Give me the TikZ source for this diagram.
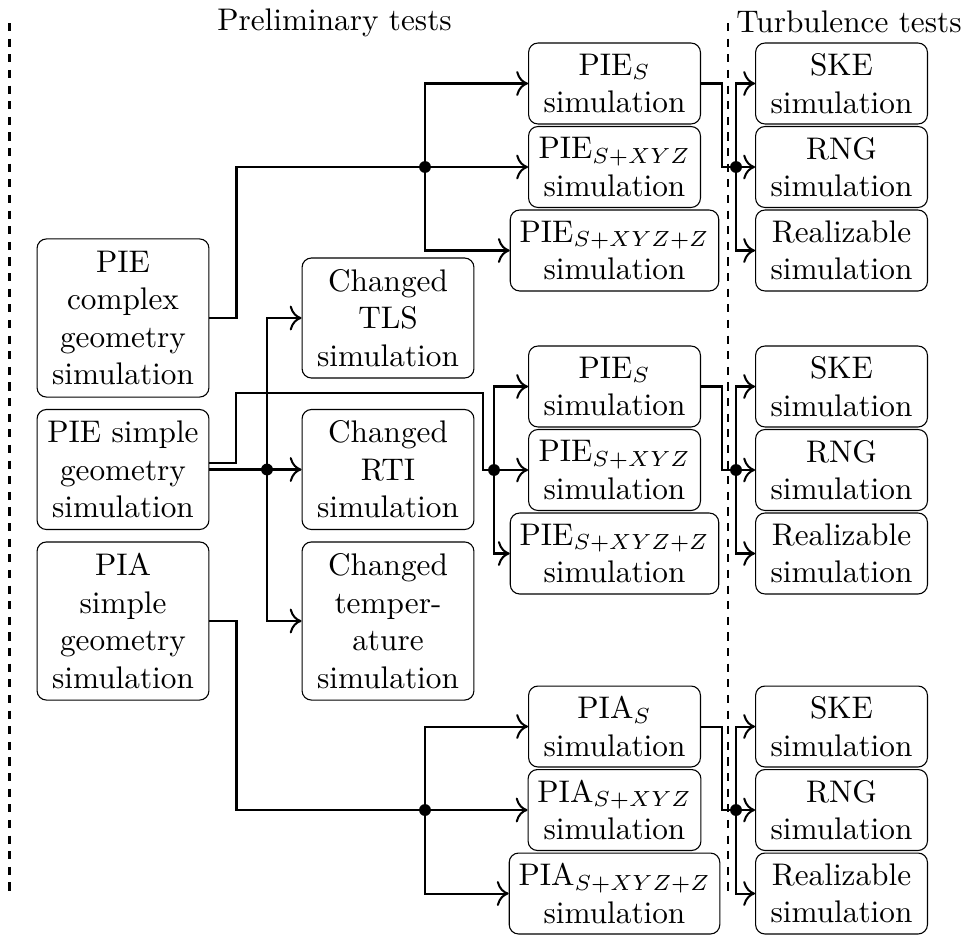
\documentclass[tikz,border=0pt]{standalone}
\usetikzlibrary{arrows.meta}
\begin{document}
\begin{tikzpicture}[x=0.32pt, y=-0.32pt,
  box/.style={draw, line width=0.35pt, rounded corners=3pt, align=center,
              minimum width=55pt, inner sep=3pt},
  twoline/.style={minimum height=25.9pt},
  threeline/.style={minimum height=38.4pt},
  fourline/.style={minimum height=50.6pt},
  conn/.style={line width=0.65pt},
  arr/.style={conn, -{To[scale=1.25]}},
  sep/.style={line width=0.75pt, dash pattern=on 2.6pt off 2.4pt},
  dot/.style={fill=black}
]
\useasboundingbox (0,0) rectangle (964,934);

% section headings and separators
\node[anchor=base, inner sep=0pt] (prelim) at (334.5,31) {Preliminary tests};
\node[anchor=base, inner sep=0pt] (turb) at (849,32) {Turbulence tests};
\coordinate (l1) at (9.5,23);  \coordinate (l2) at (9.5,892);
\coordinate (r1) at (728,23);  \coordinate (r2) at (728,894);
\draw[sep] (l1) -- (l2);
\draw[sep] (r1) -- (r2);

% base simulations
\node[box,fourline]  (pc) at (123,318)   {PIE\\complex\\geometry\\simulation};
\node[box,threeline] (ps) at (123,469.5) {PIE simple\\geometry\\simulation};
\node[box,fourline]  (pa) at (123,621)   {PIA\\simple\\geometry\\simulation};

% parameter changes
\node[box,threeline] (tls) at (388,318)   {Changed\\TLS\\simulation};
\node[box,threeline] (rti) at (388,469.5) {Changed\\RTI\\simulation};
\node[box,fourline]  (tmp) at (388,621)   {Changed\\temper-\\ature\\simulation};

% PIE complex variants
\node[box,twoline] (e1s) at (614.5,83.5)  {PIE$_{S}$\\simulation};
\node[box,twoline] (e1x) at (614.5,167)   {PIE$_{S+XYZ}$\\simulation};
\node[box,twoline] (e1z) at (614.5,250.5) {PIE$_{S+XYZ+Z}$\\simulation};
% PIE simple variants
\node[box,twoline] (e2s) at (614.5,386.5) {PIE$_{S}$\\simulation};
\node[box,twoline] (e2x) at (614.5,470)   {PIE$_{S+XYZ}$\\simulation};
\node[box,twoline] (e2z) at (614.5,553.5) {PIE$_{S+XYZ+Z}$\\simulation};
% PIA variants
\node[box,twoline] (a3s) at (614.5,726.5) {PIA$_{S}$\\simulation};
\node[box,twoline] (a3x) at (614.5,810)   {PIA$_{S+XYZ}$\\simulation};
\node[box,twoline] (a3z) at (614.5,893.5) {PIA$_{S+XYZ+Z}$\\simulation};

% turbulence models
\node[box,twoline] (t1s) at (841.5,83.5)  {SKE\\simulation};
\node[box,twoline] (t1r) at (841.5,167)   {RNG\\simulation};
\node[box,twoline] (t1z) at (841.5,250.5) {Realizable\\simulation};
\node[box,twoline] (t2s) at (841.5,386.5) {SKE\\simulation};
\node[box,twoline] (t2r) at (841.5,470)   {RNG\\simulation};
\node[box,twoline] (t2z) at (841.5,553.5) {Realizable\\simulation};
\node[box,twoline] (t3s) at (841.5,726.5) {SKE\\simulation};
\node[box,twoline] (t3r) at (841.5,810)   {RNG\\simulation};
\node[box,twoline] (t3z) at (841.5,893.5) {Realizable\\simulation};

% junctions and bends
\coordinate (j0) at (267,469.5);
\coordinate (j1) at (425,167);
\coordinate (j2) at (494,470);
\coordinate (j3) at (425,810);
\coordinate (k1) at (736,167);
\coordinate (k2) at (736,470);
\coordinate (k3) at (736,810);
\coordinate (b1) at (236,393);
\coordinate (b2) at (483,470);

% PIE complex branch
\draw[conn] (pc.east) -- ++(27,0) |- (j1);
\draw[arr] (j1) -- (e1x.west);
\draw[arr] (j1) |- (e1s.west);
\draw[arr] (j1) |- (e1z.west);
\draw[conn] (e1s.east) -- ++(21,0) |- (k1);
\draw[arr] (k1) -- (t1r.west);
\draw[arr] (k1) |- (t1s.west);
\draw[arr] (k1) |- (t1z.west);

% PIE simple branch
\draw[conn] ([yshift=2.2pt]ps.east) -| (b1) -| (b2) -- (j2);
\draw[conn] (ps.east) -- (j0);
\draw[arr] (j0) -- (rti.west);
\draw[arr] (j0) |- (tls.west);
\draw[arr] (j0) |- (tmp.west);
\draw[arr] (j2) -- (e2x.west);
\draw[arr] (j2) |- (e2s.west);
\draw[arr] (j2) |- (e2z.west);
\draw[conn] (e2s.east) -- ++(21,0) |- (k2);
\draw[arr] (k2) -- (t2r.west);
\draw[arr] (k2) |- (t2s.west);
\draw[arr] (k2) |- (t2z.west);

% PIA branch
\draw[conn] (pa.east) -- ++(27,0) |- (j3);
\draw[arr] (j3) -- (a3x.west);
\draw[arr] (j3) |- (a3s.west);
\draw[arr] (j3) |- (a3z.west);
\draw[conn] (a3s.east) -- ++(21,0) |- (k3);
\draw[arr] (k3) -- (t3r.west);
\draw[arr] (k3) |- (t3s.west);
\draw[arr] (k3) |- (t3z.west);

% junction dots
\foreach \j in {j0,j1,j2,j3,k1,k2,k3} \fill[dot] (\j) circle (1.9pt);
\end{tikzpicture}
\end{document}
